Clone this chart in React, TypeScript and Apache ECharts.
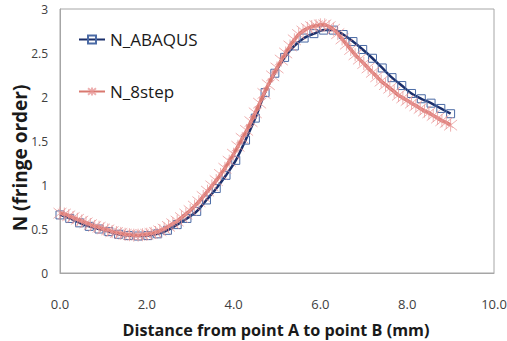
import React, { useEffect, useRef } from "react";
import * as echarts from "echarts";

const abaqusX: number[] = Array.from({ length: 41 }, (_, i) => +(i * 0.225).toFixed(3));
const abaqusY: number[] = [
  0.66, 0.62, 0.57, 0.53, 0.5, 0.47, 0.44, 0.425, 0.42, 0.425,
  0.445, 0.485, 0.55, 0.62, 0.7, 0.83, 0.96, 1.11, 1.28, 1.51,
  1.76, 2.05, 2.27, 2.45, 2.58, 2.67, 2.72, 2.76, 2.76, 2.71,
  2.63, 2.54, 2.44, 2.33, 2.22, 2.13, 2.04, 1.98, 1.93, 1.87, 1.81,
];

const stepX: number[] = Array.from({ length: 91 }, (_, i) => +(i * 0.1).toFixed(1));
const stepY: number[] = [
  0.68, 0.67, 0.65, 0.63, 0.61, 0.59, 0.57, 0.55, 0.53, 0.52,
  0.5, 0.49, 0.47, 0.46, 0.45, 0.44, 0.435, 0.43, 0.43, 0.435,
  0.44, 0.45, 0.46, 0.48, 0.5, 0.53, 0.56, 0.59, 0.63, 0.67,
  0.71, 0.76, 0.81, 0.87, 0.93, 0.99, 1.05, 1.12, 1.19, 1.27,
  1.35, 1.44, 1.53, 1.62, 1.72, 1.82, 1.93, 2.04, 2.14, 2.24,
  2.33, 2.42, 2.5, 2.58, 2.65, 2.71, 2.75, 2.78, 2.8, 2.81,
  2.82, 2.82, 2.8, 2.77, 2.72, 2.66, 2.6, 2.54, 2.48, 2.43,
  2.38, 2.33, 2.28, 2.23, 2.18, 2.14, 2.1, 2.06, 2.02, 1.99,
  1.96, 1.93, 1.9, 1.87, 1.84, 1.82, 1.79, 1.76, 1.73, 1.71, 1.68,
];

const seriesNames = ["N_ABAQUS", "N_8step"];
const xTitle = "Distance from point A to point B (mm)";
const yTitle = "N (fringe order)";

const asterisk = "path://M5,0L5,10M1,1L9,9M9,1L1,9";
const FONT = "'Open Sans', 'Liberation Sans', sans-serif";

export default function App() {
  const ref = useRef<HTMLDivElement>(null);
  useEffect(() => {
    if (!ref.current) return;
    const chart = echarts.init(ref.current, undefined, { renderer: "svg" });
    chart.setOption({
      animation: false,
      backgroundColor: "#ffffff",
      textStyle: { fontFamily: FONT },
      grid: {
        left: 60,
        top: 9,
        right: 13,
        bottom: 68,
        show: true,
        borderColor: "#a6a6a6",
        borderWidth: 1,
        outerBoundsMode: "none",
      },
      legend: {
        orient: "vertical",
        left: 78,
        top: 31,
        padding: 0,
        itemGap: 35,
        itemWidth: 26,
        itemHeight: 10,
        textStyle: { fontSize: 17, color: "#1a1a1a", fontFamily: FONT },
        data: seriesNames,
      },
      graphic: [
        {
          type: "text",
          x: 276,
          y: 330,
          style: {
            text: xTitle,
            fontSize: 16.2,
            fontWeight: "bold",
            fill: "#1a1a1a",
            fontFamily: FONT,
            align: "center",
            verticalAlign: "middle",
          },
        },
        {
          type: "text",
          x: 20,
          y: 158,
          rotation: Math.PI / 2,
          style: {
            text: yTitle,
            fontSize: 19,
            fontWeight: "bold",
            fill: "#1a1a1a",
            fontFamily: FONT,
            align: "center",
            verticalAlign: "middle",
          },
        },
      ],
      xAxis: {
        type: "value",
        min: 0,
        max: 10,
        interval: 2,
        axisLine: { show: true, lineStyle: { color: "#a6a6a6" } },
        axisTick: { show: false },
        splitLine: { show: false },
        axisLabel: {
          margin: 24,
          fontSize: 13,
          color: "#404040",
          formatter: (v: number) => v.toFixed(1),
        },
      },
      yAxis: {
        type: "value",
        min: 0,
        max: 3,
        interval: 0.5,
        axisLine: { show: true, lineStyle: { color: "#a6a6a6" } },
        axisTick: { show: false },
        splitLine: { show: false },
        axisLabel: { margin: 12, fontSize: 12, color: "#404040" },
      },
      series: [
        {
          name: seriesNames[0],
          type: "line",
          smooth: 0.3,
          data: abaqusX.map((x, i) => [x, abaqusY[i]]),
          symbol: "rect",
          symbolSize: 8,
          lineStyle: { color: "#1b2f6b", width: 2.5 },
          itemStyle: { color: "rgba(255,255,255,0)", borderColor: "#4a6aa5", borderWidth: 1 },
          z: 2,
        },
        {
          name: seriesNames[1],
          type: "line",
          smooth: 0.3,
          data: stepX.map((x, i) => [x, stepY[i]]),
          symbol: asterisk,
          symbolSize: 13,
          lineStyle: { color: "#d9786f", width: 3.5 },
          itemStyle: { color: "rgba(255,255,255,0)", borderColor: "rgba(232,150,150,0.75)", borderWidth: 1 },
          z: 3,
        },
      ],
    });
    return () => chart.dispose();
  }, []);
  return (
    <div
      ref={ref}
      style={{ position: "fixed", left: 0, top: 0, width: 507, height: 341 }}
    />
  );
}
